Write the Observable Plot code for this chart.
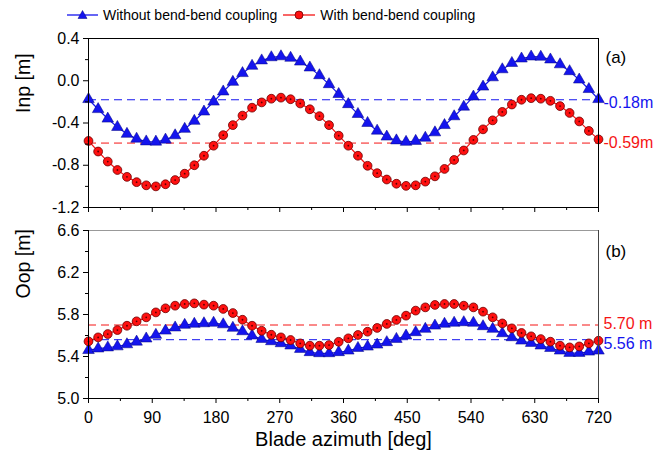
<!DOCTYPE html>
<html><head><meta charset="utf-8">
<script src="https://cdn.jsdelivr.net/npm/d3@7"></script>
<script src="https://cdn.jsdelivr.net/npm/@observablehq/plot@0.6"></script>
<style>
body{margin:0;background:#fff;font-family:"Liberation Sans",Arial,sans-serif;}
#legend{height:26px;width:662px;display:flex;align-items:center;padding-left:67px;box-sizing:border-box;font-size:14px;color:#000;padding-top:4px}
#legend .item{display:flex;align-items:center;margin-right:6px}
#legend svg{display:block;margin-right:5px}
#chart svg{display:block}
</style></head><body>
<div id="legend"></div>
<div id="chart"></div>
<script>
const seriesNames = ["Without bend-bend coupling", "With bend-bend coupling"];
const azimuth = [0,13.6,27.2,40.8,54.3,67.9,81.5,95.1,108.7,122.3,135.8,149.4,163.0,176.6,190.2,203.8,217.4,230.9,244.5,258.1,271.7,285.3,298.9,312.5,326.0,339.6,353.2,366.8,380.4,394.0,407.5,421.1,434.7,448.3,461.9,475.5,489.1,502.6,516.2,529.8,543.4,557.0,570.6,584.2,597.7,611.3,624.9,638.5,652.1,665.7,679.2,692.8,706.4,720];
const inpWithout = [-0.175,-0.270,-0.360,-0.439,-0.504,-0.550,-0.576,-0.578,-0.559,-0.518,-0.457,-0.381,-0.293,-0.199,-0.103,-0.012,0.071,0.140,0.191,0.221,0.230,0.216,0.180,0.124,0.051,-0.034,-0.127,-0.223,-0.316,-0.401,-0.474,-0.530,-0.566,-0.580,-0.571,-0.541,-0.490,-0.421,-0.338,-0.247,-0.151,-0.057,0.031,0.107,0.167,0.209,0.228,0.226,0.200,0.154,0.089,0.010,-0.080,-0.175];
const inpWith = [-0.57,-0.67,-0.765,-0.845,-0.91,-0.96,-0.99,-1.00,-0.98,-0.94,-0.88,-0.80,-0.71,-0.615,-0.515,-0.42,-0.33,-0.255,-0.205,-0.17,-0.16,-0.175,-0.215,-0.27,-0.335,-0.42,-0.52,-0.615,-0.71,-0.805,-0.875,-0.935,-0.975,-0.995,-0.99,-0.955,-0.905,-0.835,-0.75,-0.66,-0.56,-0.46,-0.375,-0.295,-0.225,-0.18,-0.165,-0.17,-0.19,-0.24,-0.305,-0.385,-0.475,-0.555];
const oopWithout = [5.46,5.475,5.485,5.495,5.515,5.54,5.57,5.605,5.645,5.675,5.70,5.71,5.715,5.72,5.705,5.672,5.639,5.598,5.566,5.544,5.525,5.503,5.471,5.44,5.43,5.43,5.44,5.455,5.48,5.493,5.512,5.535,5.566,5.598,5.63,5.662,5.693,5.71,5.72,5.725,5.72,5.687,5.662,5.62,5.582,5.55,5.528,5.503,5.48,5.455,5.433,5.433,5.445,5.455];
const oopWith = [5.544,5.582,5.614,5.652,5.693,5.735,5.773,5.82,5.859,5.884,5.90,5.906,5.894,5.884,5.853,5.814,5.75,5.693,5.645,5.607,5.582,5.557,5.525,5.503,5.503,5.509,5.54,5.573,5.605,5.636,5.672,5.71,5.748,5.789,5.837,5.868,5.891,5.90,5.90,5.884,5.868,5.827,5.773,5.715,5.668,5.624,5.592,5.566,5.541,5.503,5.487,5.496,5.525,5.55];
const xDomain = [0, 720];
const xTicks = [0,90,180,270,360,450,540,630,720];
const xMinorTicks = [45,135,225,315,405,495,585,675];
const inpDomain = [-1.2, 0.4];
const inpTicks = [-1.2,-0.8,-0.4,0.0,0.4];
const inpMinorTicks = [-1.0,-0.6,-0.2,0.2];
const oopDomain = [5.0, 6.6];
const oopTicks = [5.0,5.4,5.8,6.2,6.6];
const oopMinorTicks = [5.2,5.6,6.0,6.4];
const inpMeans = [-0.18, -0.59];
const inpMeanLabels = ["-0.18m", "-0.59m"];
const oopMeans = [5.56, 5.70];
const oopMeanLabels = ["5.56 m", "5.70 m"];
const panelLabels = ["(a)", "(b)"];
const axisTitles = ["Inp [m]", "Oop [m]", "Blade azimuth [deg]"];

const BLUE = "#1414ee", RED = "#f51414";
const FONT = '"Liberation Sans", Arial, sans-serif';

// legend
const legend = document.getElementById("legend");
seriesNames.forEach((name, k) => {
  const item = document.createElement("div");
  item.className = "item";
  const sw = k === 0
    ? `<svg width="31" height="12"><line x1="0" y1="6" x2="31" y2="6" stroke="${BLUE}" stroke-width="1.3"/><path d="M15.5,1.5 L20,9.5 L11,9.5 Z" fill="${BLUE}" stroke="#000080" stroke-width="0.5"/></svg>`
    : `<svg width="32" height="12"><line x1="0" y1="6" x2="32" y2="6" stroke="${RED}" stroke-width="1.3"/><circle cx="16" cy="6" r="4" fill="#ff1010" stroke="#6a0000" stroke-width="0.8"/></svg>`;
  item.innerHTML = sw + `<span>${name}</span>`;
  legend.appendChild(item);
});

function rows(values) { return azimuth.map((a, i) => ({az: a, v: values[i]})); }

function panel(o) {
  const blue = rows(o.blue), red = rows(o.red);
  const marks = [
    Plot.ruleY([o.means[0]], {y: d => d, stroke: BLUE, strokeDasharray: "8,5", strokeWidth: 1}),
    Plot.ruleY([o.means[1]], {y: d => d, stroke: RED, strokeDasharray: "8,5", strokeWidth: 1}),
    Plot.line(blue, {x: "az", y: "v", stroke: BLUE, strokeWidth: 1.2}),
    Plot.line(red, {x: "az", y: "v", stroke: RED, strokeWidth: 1.2}),
    Plot.dot(blue, {x: "az", y: "v", symbol: "triangle", r: 4.3, fill: BLUE, stroke: "#000080", strokeWidth: 0.5}),
    Plot.dot(red, {x: "az", y: "v", r: 4.4, fill: "#ff1010", stroke: "#6a0000", strokeWidth: 0.8}),
    Plot.dot(red, {x: "az", y: "v", r: 0.9, fill: "#5a0000"}),
  ];
  if (o.grayFrame) {
    marks.push(
      Plot.frame({stroke: "#999"}),
      Plot.ruleX([xDomain[1]], {x: d => d, stroke: "#444"}),
      Plot.ruleX([xDomain[0]], {x: d => d, stroke: "#000"}),
      Plot.ruleY([o.yDomain[0]], {y: d => d, stroke: "#000"})
    );
  } else {
    marks.push(Plot.frame({stroke: "#000"}));
  }
  marks.push(
    Plot.axisY(o.yTicks, {tickSize: 5, tickPadding: 4, tickFormat: d => d.toFixed(1), fontSize: 16, label: null}),
    Plot.axisY(o.yMinor, {tickSize: 3, tickFormat: () => "", label: null}),
    Plot.axisX(xTicks, {tickSize: 5, tickPadding: 8, tickFormat: o.showX ? (d => String(d)) : (() => ""), fontSize: 16, label: null}),
    Plot.axisX(xMinorTicks, {tickSize: 3, tickFormat: () => "", label: null}),
    Plot.text([o.yLabel], {text: d => d, frameAnchor: "left", dx: -65, dy: o.yLabelDy, rotate: -90, fontSize: 19.5}),
    Plot.text([o.panelLabel], {text: d => d, frameAnchor: "top-right", textAnchor: "start", dx: 7, dy: o.panelDy, fontSize: 17}),
    Plot.text([o.meanLabels[0]], {text: d => d, x: () => xDomain[1], y: () => o.means[0], dx: 5, dy: o.labelDy[0], textAnchor: "start", fill: BLUE, fontSize: 16}),
    Plot.text([o.meanLabels[1]], {text: d => d, x: () => xDomain[1], y: () => o.means[1], dx: 5, dy: o.labelDy[1], textAnchor: "start", fill: RED, fontSize: 16})
  );
  if (o.xLabel) {
    marks.push(Plot.text([o.xLabel], {text: d => d, frameAnchor: "bottom", dy: 47, fontSize: 20}));
  }
  return Plot.plot({
    width: 662, height: o.height,
    marginLeft: 88, marginRight: 64, marginTop: o.marginTop, marginBottom: o.marginBottom,
    style: {fontFamily: FONT, background: "white", color: "#000", overflow: "visible"},
    x: {domain: xDomain, axis: null},
    y: {domain: o.yDomain, axis: null},
    marks
  });
}

const chart = document.getElementById("chart");
chart.appendChild(panel({
  blue: inpWithout, red: inpWith, means: inpMeans, meanLabels: inpMeanLabels, labelDy: [3, 0],
  yDomain: inpDomain, yTicks: inpTicks, yMinor: inpMinorTicks, yLabel: axisTitles[0], yLabelDy: -10,
  panelLabel: panelLabels[0], panelDy: 12, height: 192, marginTop: 12, marginBottom: 11, showX: false
}));
chart.appendChild(panel({
  blue: oopWithout, red: oopWith, means: oopMeans, meanLabels: oopMeanLabels, labelDy: [4, -1],
  yDomain: oopDomain, yTicks: oopTicks, yMinor: oopMinorTicks, yLabel: axisTitles[1], yLabelDy: -16,
  panelLabel: panelLabels[1], panelDy: 14, height: 246, marginTop: 12, marginBottom: 66, showX: true,
  xLabel: axisTitles[2], grayFrame: true
}));
</script>
</body></html>
